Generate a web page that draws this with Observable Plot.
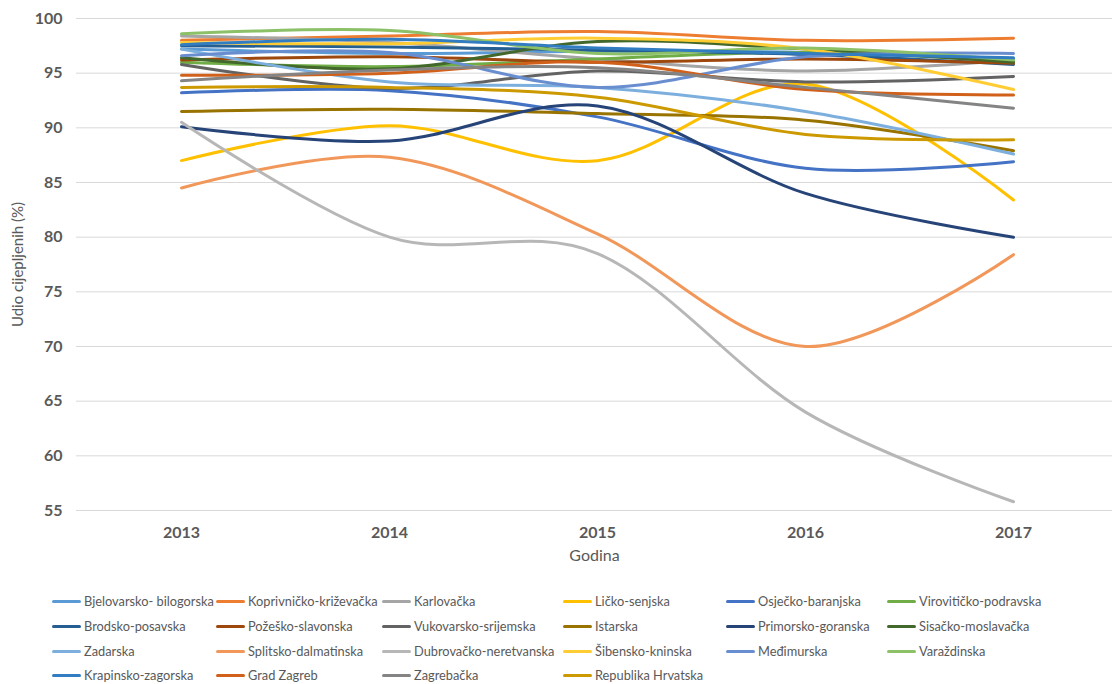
<!DOCTYPE html>
<html>
<head>
<meta charset="utf-8">
<script src="https://cdn.jsdelivr.net/npm/d3@7"></script>
<script src="https://cdn.jsdelivr.net/npm/@observablehq/plot@0.6"></script>
<style>
  body { margin: 0; background: #fff; font-family: Lato, "Open Sans", sans-serif; }
  #wrap { position: relative; width: 1112px; height: 684px; }
  .leg { position: absolute; display: flex; align-items: center; font-size: 12.8px; color: #595959; white-space: nowrap; }
  .leg span.sw { display: inline-block; width: 29px; height: 3px; margin-right: 3px; border-radius: 2px; }
</style>
</head>
<body>
<div id="wrap"></div>
<script>
const years = ["2013", "2014", "2015", "2016", "2017"];
const yTicks = [55, 60, 65, 70, 75, 80, 85, 90, 95, 100];

const seriesNames = [
  "Bjelovarsko- bilogorska", "Koprivničko-križevačka", "Karlovačka", "Ličko-senjska", "Osječko-baranjska", "Virovitičko-podravska",
  "Brodsko-posavska", "Požeško-slavonska", "Vukovarsko-srijemska", "Istarska", "Primorsko-goranska", "Sisačko-moslavačka",
  "Zadarska", "Splitsko-dalmatinska", "Dubrovačko-neretvanska", "Šibensko-kninska", "Međimurska", "Varaždinska",
  "Krapinsko-zagorska", "Grad Zagreb", "Zagrebačka", "Republika Hrvatska"
];

const seriesColors = [
  "#5B9BD5", "#ED7D31", "#A5A5A5", "#FFC000", "#4472C4", "#70AD47",
  "#255E91", "#9E480E", "#636363", "#997300", "#264478", "#43682B",
  "#7CAFDD", "#F1975A", "#B7B7B7", "#FFCD33", "#698ED0", "#8CC168",
  "#327DC2", "#D1601A", "#848484", "#CC9A00"
];

const bjelovarsko   = [97.2, 96.8, 97.0, 96.9, 96.3];
const koprivnicko   = [98.0, 98.4, 98.8, 98.0, 98.2];
const karlovacka    = [98.4, 97.8, 96.3, 95.2, 96.2];
const licko         = [87.0, 90.2, 87.0, 94.0, 83.4];
const osjecko       = [93.2, 93.4, 91.0, 86.3, 86.9];
const viroviticko   = [96.0, 95.6, 96.3, 96.9, 96.1];
const brodsko       = [97.5, 97.4, 97.1, 96.7, 95.8];
const pozesko       = [96.2, 96.5, 96.0, 96.3, 95.9];
const vukovarsko    = [95.8, 93.6, 95.2, 94.2, 94.7];
const istarska      = [91.5, 91.7, 91.3, 90.7, 87.9];
const primorsko     = [90.1, 88.8, 92.0, 84.0, 80.0];
const sisacko       = [96.4, 95.4, 97.9, 97.2, 96.0];
const zadarska      = [97.2, 94.2, 93.7, 91.5, 87.6];
const splitsko      = [84.5, 87.3, 80.3, 70.0, 78.4];
const dubrovacko    = [90.5, 80.0, 78.5, 64.0, 55.8];
const sibensko      = [97.8, 97.7, 98.2, 97.2, 93.5];
const medimurska    = [96.6, 96.9, 93.7, 96.5, 96.8];
const varazdinska   = [98.6, 98.9, 96.8, 97.3, 96.2];
const krapinsko     = [97.6, 98.1, 97.3, 96.8, 96.4];
const gradZagreb    = [94.8, 95.0, 96.0, 93.5, 93.0];
const zagrebacka    = [94.3, 95.3, 95.5, 93.7, 91.8];
const republika     = [93.7, 93.7, 92.8, 89.4, 88.9];

const seriesValues = [
  bjelovarsko, koprivnicko, karlovacka, licko, osjecko, viroviticko,
  brodsko, pozesko, vukovarsko, istarska, primorsko, sisacko,
  zadarska, splitsko, dubrovacko, sibensko, medimurska, varazdinska,
  krapinsko, gradZagreb, zagrebacka, republika
];

const data = [];
seriesNames.forEach((name, i) => {
  seriesValues[i].forEach((v, j) => data.push({ series: name, year: years[j], value: v }));
});

const H = 575;
const chart = Plot.plot({
  width: 1112,
  height: H,
  marginTop: 18,
  marginBottom: H - 510,
  marginLeft: 76,
  marginRight: 0,
  style: { fontFamily: "Lato, 'Open Sans', sans-serif", background: "#fff" },
  x: { type: "point", domain: years, range: [180, 1013], padding: 0 },
  y: { domain: [55, 100] },
  color: { domain: seriesNames, range: seriesColors },
  marks: [
    Plot.gridY(yTicks, { stroke: "#d9d9d9", strokeOpacity: 1, strokeWidth: 1 }),
    Plot.axisY(yTicks, { tickSize: 0, tickPadding: 14, fontSize: 16, fontWeight: "bold", fill: "#595959", label: null }),
    Plot.axisX(years, { tickSize: 0, tickPadding: 16, fontSize: 16, fontWeight: "bold", fill: "#595959", label: null }),
    Plot.line(data, { x: "year", y: "value", z: "series", stroke: "series", strokeWidth: 3, curve: "cardinal" }),
    Plot.text(["Godina"], { frameAnchor: "bottom", dy: 50, fontSize: 16, fill: "#595959" }),
    Plot.text(["Udio cijepljenih (%)"], { frameAnchor: "left", dx: -58, rotate: -90, fontSize: 15, fill: "#595959", textAnchor: "middle" })
  ]
});

const wrap = document.getElementById("wrap");
wrap.appendChild(chart);

const colX = [52, 216, 382, 563, 726, 887];
const rowY = [601, 626, 651, 675];
seriesNames.forEach((name, i) => {
  const c = i % 6, r = Math.floor(i / 6);
  const d = document.createElement("div");
  d.className = "leg";
  d.style.left = colX[c] + "px";
  d.style.top = (rowY[r] - 9) + "px";
  d.style.height = "18px";
  d.innerHTML = `<span class="sw" style="background:${seriesColors[i]}"></span>${name}`;
  wrap.appendChild(d);
});
</script>
</body>
</html>
